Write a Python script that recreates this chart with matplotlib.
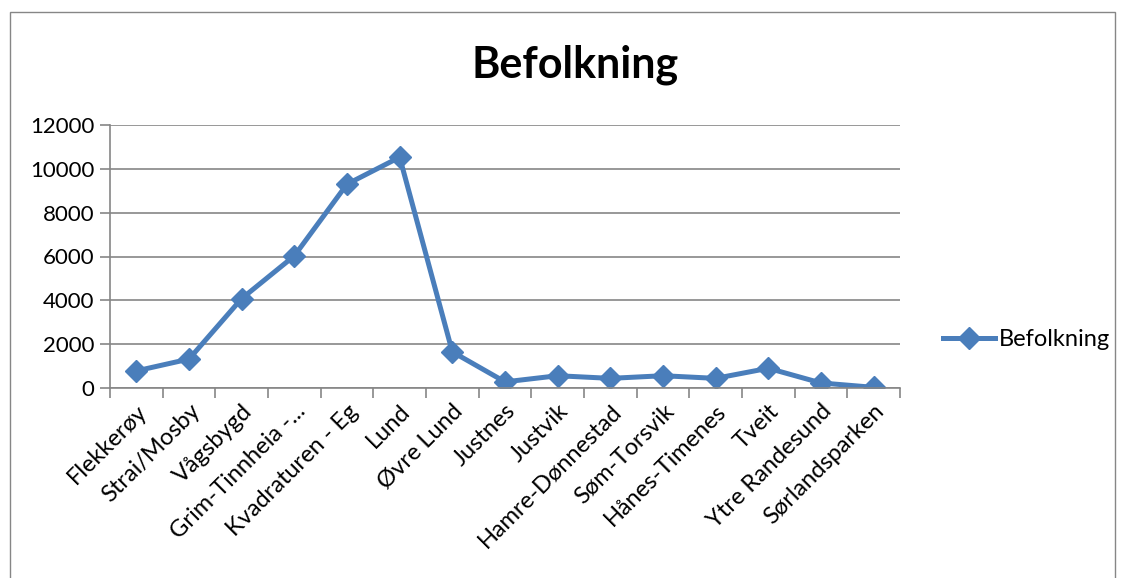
import matplotlib
matplotlib.use("Agg")
import matplotlib.pyplot as plt
import numpy as np

# data
omraader = ["Flekkerøy", "Strai/Mosby", "Vågsbygd", "Grim-Tinnheia -...",
            "Kvadraturen - Eg", "Lund", "Øvre Lund", "Justnes", "Justvik",
            "Hamre-Dønnestad", "Søm-Torsvik", "Hånes-Timenes", "Tveit",
            "Ytre Randesund", "Sørlandsparken"]
befolkning = [780, 1320, 4080, 6030, 9300, 10530, 1650, 280, 560,
              440, 560, 440, 900, 230, 30]
y_ticks = [0, 2000, 4000, 6000, 8000, 10000, 12000]

plt.rcParams['font.family'] = ['Lato', 'DejaVu Sans']
blue = '#4a7ebb'
grid = '#868686'

fig = plt.figure(figsize=(11.25, 5.78), dpi=100)
ax = fig.add_axes([110/1125, 1 - 388/578, 790/1125, 263/578])

x = np.arange(len(omraader))
ax.plot(x, befolkning, color=blue, lw=3.6, marker='D', ms=11,
        label='Befolkning', solid_joinstyle='round')

ax.set_xlim(-0.5, len(omraader) - 0.5)
ax.set_ylim(0, 12000)
ax.set_yticks(y_ticks)
ax.set_yticklabels([str(v) for v in y_ticks], fontsize=16)
ax.yaxis.grid(True, color=grid, lw=1.2)
ax.set_axisbelow(True)

# category labels sit at the points, ticks sit between categories
ax.set_xticks(x)
ax.set_xticklabels(omraader, rotation=45, ha='right', rotation_mode='anchor',
                   fontsize=17)
ax.tick_params(axis='x', length=0, pad=9)
ax.set_xticks(np.arange(-0.5, len(omraader)), minor=True)
ax.tick_params(axis='x', which='minor', length=7, color=grid, width=1.2)
ax.tick_params(axis='y', length=7, color=grid, width=1.2, pad=4)

for s in ['top', 'right']:
    ax.spines[s].set_visible(False)
for s in ['left', 'bottom']:
    ax.spines[s].set_color(grid)
    ax.spines[s].set_linewidth(1.2)

fig.text(575/1125, 1 - 65/578, 'Befolkning', ha='center', va='center',
         fontsize=31, fontweight='bold')

fig.legend(loc='center left', bbox_to_anchor=(922/1125, 1 - 340/578),
           frameon=False, fontsize=17, handlelength=2.2, handletextpad=0.15)

# outer chart border
border = plt.Rectangle((10/1125, -0.01), 1105/1125, 1 - 12/578 + 0.01,
                       transform=fig.transFigure, fill=False,
                       edgecolor=grid, lw=1)
fig.patches.append(border)

fig.savefig('out.png', dpi=100)
